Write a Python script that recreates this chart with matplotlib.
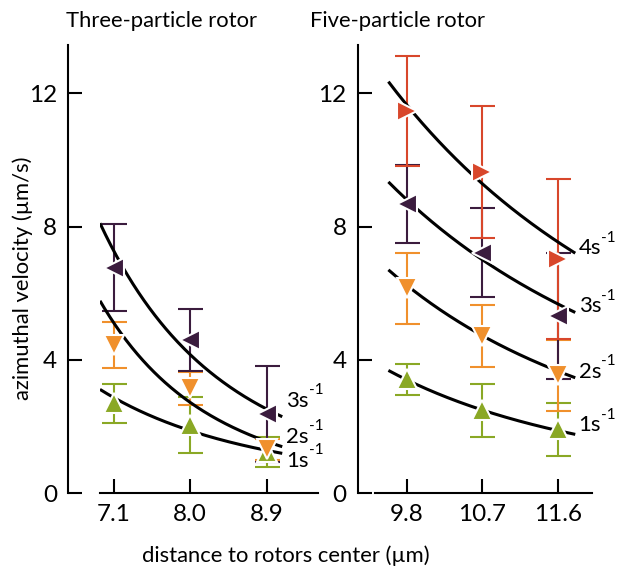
import numpy as np
import matplotlib
matplotlib.use("Agg")
import matplotlib.pyplot as plt

plt.rcParams['font.family'] = ['Lato', 'DejaVu Sans']

# ---------------- data ----------------
rate_keys = ['1s', '2s', '3s', '4s']
rate_colors = {'1s': '#8aa825', '2s': '#f0902c', '3s': '#3b1c3e', '4s': '#d8472b'}
rate_markers = {'1s': '^', '2s': 'v', '3s': '<', '4s': '>'}

three_x = [7.1, 8.0, 8.9]
three_v = {'1s': [2.69, 2.05, 1.24], '2s': [4.44, 3.14, 1.31], '3s': [6.77, 4.59, 2.37]}
three_err = {'1s': [0.58, 0.84, 0.45], '2s': [0.70, 0.50, 0.32], '3s': [1.30, 0.92, 1.44]}

five_x = [9.8, 10.7, 11.6]
five_v = {'1s': [3.41, 2.48, 1.91], '2s': [6.14, 4.72, 3.53],
          '3s': [8.68, 7.21, 5.32], '4s': [11.47, 9.64, 7.02]}
five_err = {'1s': [0.46, 0.80, 0.79], '2s': [1.08, 0.93, 1.07],
            '3s': [1.18, 1.34, 1.89], '4s': [1.65, 1.97, 2.40]}

# fitted decay curves (power law through read start / end values)
three_fit_range = [6.94, 9.08]
three_fit_start = {'1s': 3.11, '2s': 5.77, '3s': 8.10}
three_fit_end = {'1s': 1.19, '2s': 1.39, '3s': 2.29}
five_fit_range = [9.58, 11.81]
five_fit_start = {'1s': 3.68, '2s': 6.70, '3s': 9.34, '4s': 12.35}
five_fit_end = {'1s': 1.76, '2s': 3.46, '3s': 5.42, '4s': 7.20}

three_label_x = 9.13
three_label_y = {'1s': 0.79, '2s': 1.51, '3s': 2.59}
five_label_x = 11.85
five_label_y = {'1s': 1.86, '2s': 3.46, '3s': 5.43, '4s': 7.17}

three_ticks = [7.1, 8.0, 8.9]
three_ticklabels = ['7.1', '8.0', '8.9']
five_ticks = [9.8, 10.7, 11.6]
five_ticklabels = ['9.8', '10.7', '11.6']
y_ticks = [0, 4, 8, 12]

W, H = 621, 570
fig = plt.figure(figsize=(W / 100, H / 100), dpi=100)


def px_axes(l, r, t, b):
    return [l / W, 1 - b / H, (r - l) / W, (b - t) / H]


ax1 = fig.add_axes(px_axes(100, 318, 45, 493))
ax2 = fig.add_axes(px_axes(375, 592, 45, 493))

FS_TICK = 17.5
FS_LAB = 15.8
FS_CURVE = 16


def draw_panel(ax, xs, vals, errs, fit_range, fit_start, fit_end, lab_x, lab_y,
               ticks, ticklabels, xlim, spine_off):
    keys = [k for k in rate_keys if k in vals]
    for k in keys:
        ax.errorbar(xs, vals[k], yerr=errs[k], fmt='none', ecolor=rate_colors[k],
                    elinewidth=1.5, capsize=9, capthick=1.5, zorder=2)
    for k in keys:
        x0, x1 = fit_range
        v0, v1 = fit_start[k], fit_end[k]
        n = np.log(v0 / v1) / np.log(x1 / x0)
        xx = np.linspace(x0, x1, 200)
        ax.plot(xx, v0 * (xx / x0) ** (-n), color='black', lw=2.2, zorder=3,
                solid_capstyle='butt')
    for k in keys:
        ax.plot(xs, vals[k], linestyle='none', marker=rate_markers[k], ms=15,
                mfc=rate_colors[k], mec='white', mew=1.5, zorder=4)
        ax.text(lab_x, lab_y[k], k, fontsize=FS_CURVE, ha='left', va='baseline',
                zorder=5)
        ax.annotate('-1', xy=(lab_x, lab_y[k]), xytext=(16, 9),
                    textcoords='offset points', fontsize=11, ha='left',
                    va='baseline', zorder=5)
    ax.set_xlim(*xlim)
    ax.set_ylim(0, 13.45)
    ax.set_xticks(ticks)
    ax.set_xticklabels(ticklabels)
    ax.set_yticks(y_ticks)
    for s in ['top', 'right']:
        ax.spines[s].set_visible(False)
    ax.spines['left'].set_position(('outward', spine_off))
    for s in ['left', 'bottom']:
        ax.spines[s].set_linewidth(1.5)
    ax.tick_params(direction='in', length=10, width=1.5, labelsize=FS_TICK, pad=8)
    ax.patch.set_alpha(0)


draw_panel(ax1, three_x, three_v, three_err, three_fit_range, three_fit_start,
           three_fit_end, three_label_x, three_label_y, three_ticks,
           three_ticklabels, (6.94, 9.5), 32 * 0.72)
draw_panel(ax2, five_x, five_v, five_err, five_fit_range, five_fit_start,
           five_fit_end, five_label_x, five_label_y, five_ticks,
           five_ticklabels, (9.42, 12.01), 17.5 * 0.72)

fig.text(161 / W, 1 - 27 / H, 'Three-particle rotor', ha='center', va='baseline', fontsize=FS_LAB)
fig.text(398 / W, 1 - 27 / H, 'Five-particle rotor', ha='center', va='baseline', fontsize=FS_LAB)
fig.text(23 / W, 1 - 278 / H, 'azimuthal velocity (µm/s)', rotation=90,
         ha='center', va='center', fontsize=FS_LAB)
fig.text(286 / W, 1 - 562 / H, 'distance to rotors center (µm)', ha='center',
         va='baseline', fontsize=FS_LAB)

fig.savefig('out.png', dpi=100)
